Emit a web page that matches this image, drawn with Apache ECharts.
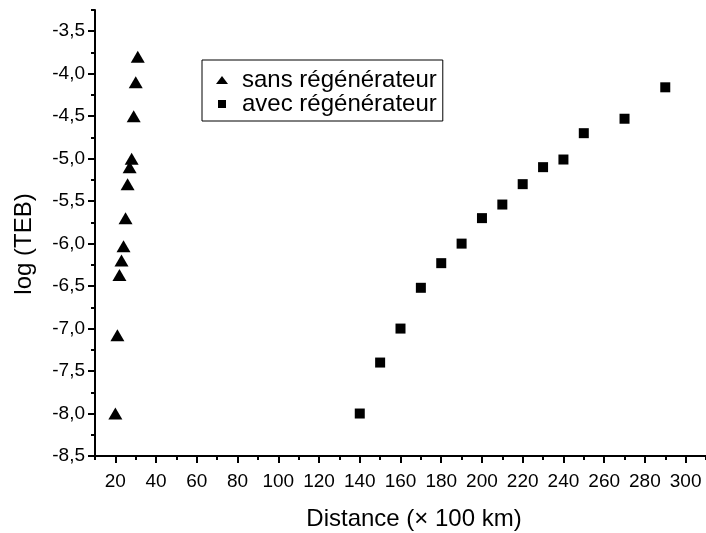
<!DOCTYPE html>
<html>
<head>
<meta charset="utf-8">
<script src="https://cdn.jsdelivr.net/npm/echarts@6/dist/echarts.min.js"></script>
<style>html,body{margin:0;padding:0;background:#fff}#c{width:706px;height:533px}</style>
</head>
<body>
<div id="c"></div>
<script>
// --- data ---
const seriesNames = ['sans régénérateur', 'avec régénérateur'];
const sansX = [31, 30, 29, 28, 27, 26, 25, 24, 23, 22, 21, 20];
const sansY = [-3.8, -4.1, -4.5, -5.0, -5.1, -5.3, -5.7, -6.03, -6.2, -6.37, -7.08, -8.0];
const avecX = [140, 150, 160, 170, 180, 190, 200, 210, 220, 230, 240, 250, 270, 290];
const avecY = [-8.0, -7.4, -7.0, -6.52, -6.23, -6.0, -5.7, -5.54, -5.3, -5.1, -5.01, -4.7, -4.53, -4.16];
const xTickValues = [20,40,60,80,100,120,140,160,180,200,220,240,260,280,300];
const xMinorTickValues = [10,30,50,70,90,110,130,150,170,190,210,230,250,270,290,310];
const yTickValues = [-8.5,-8.0,-7.5,-7.0,-6.5,-6.0,-5.5,-5.0,-4.5,-4.0,-3.5];
const yMinorTickValues = [-8.25,-7.75,-7.25,-6.75,-6.25,-5.75,-5.25,-4.75,-4.25,-3.75,-3.25];
const xName = 'Distance (\u00d7 100 km)';
const yName = 'log (TEB)';

const FONT = '"Liberation Sans", Arial, Helvetica, sans-serif';
const chart = echarts.init(document.getElementById('c'), null, {renderer: 'canvas'});
const pair = (xs, ys) => xs.map((x, i) => [x, ys[i]]);
const lineStyle = {color: '#000', width: 2};

chart.setOption({
  animation: false,
  backgroundColor: '#fff',
  textStyle: {fontFamily: FONT, color: '#000'},
  grid: {left: 95, right: 0, top: 10, bottom: 77, containLabel: false, outerBoundsMode: 'none'},
  legend: {
    orient: 'vertical',
    left: 202, top: 60,
    padding: [8, 6, 5, 14],
    itemGap: 0,
    itemWidth: 12, itemHeight: 8,
    borderColor: '#000', borderWidth: 1,
    itemStyle: {opacity: 1, color: '#000'},
    data: [
      {name: seriesNames[0], icon: 'triangle'},
      {name: seriesNames[1], icon: 'path://M0,0h10v10h-10z'}
    ],
    textStyle: {fontFamily: FONT, fontSize: 24, lineHeight: 23, color: '#000', padding: [0, 0, 0, 9]}
  },
  xAxis: [{
    type: 'value', min: 10, max: 310,
    name: xName, nameLocation: 'middle', nameGap: 51,
    nameTextStyle: {fontFamily: FONT, fontSize: 24, color: '#000', padding: [0, 0, 0, 27]},
    axisLine: {show: true, lineStyle: lineStyle},
    axisTick: {show: true, customValues: xTickValues, length: 7, lineStyle: lineStyle},
    axisLabel: {customValues: xTickValues, fontFamily: FONT, fontSize: 19, color: '#000', margin: 16},
    splitLine: {show: false}
  }, {
    type: 'value', min: 10, max: 310, position: 'bottom', offset: 0,
    axisLine: {show: false},
    axisTick: {show: true, customValues: xMinorTickValues, length: 4, lineStyle: lineStyle},
    axisLabel: {show: false},
    splitLine: {show: false}
  }],
  yAxis: [{
    type: 'value', min: -8.5, max: -3.25,
    name: yName, nameLocation: 'middle', nameGap: 59,
    nameTextStyle: {fontFamily: FONT, fontSize: 24, color: '#000', padding: [0, 22, 0, 0]},
    axisLine: {show: true, lineStyle: lineStyle},
    axisTick: {show: true, customValues: yTickValues, length: 7, lineStyle: lineStyle},
    axisLabel: {customValues: yTickValues, fontFamily: FONT, fontSize: 19, color: '#000', margin: 10,
      formatter: v => v.toFixed(1).replace('.', ',')},
    splitLine: {show: false}
  }, {
    type: 'value', min: -8.5, max: -3.25, position: 'left', offset: 0,
    axisLine: {show: false},
    axisTick: {show: true, customValues: yMinorTickValues, length: 4, lineStyle: lineStyle},
    axisLabel: {show: false},
    splitLine: {show: false}
  }],
  series: [{
    name: seriesNames[0], type: 'scatter', symbol: 'triangle', symbolSize: [14, 12],
    itemStyle: {color: '#000', opacity: 1}, data: pair(sansX, sansY)
  }, {
    name: seriesNames[1], type: 'scatter', symbol: 'rect', symbolSize: 10,
    itemStyle: {color: '#000', opacity: 1}, data: pair(avecX, avecY)
  }]
});
</script>
</body>
</html>
